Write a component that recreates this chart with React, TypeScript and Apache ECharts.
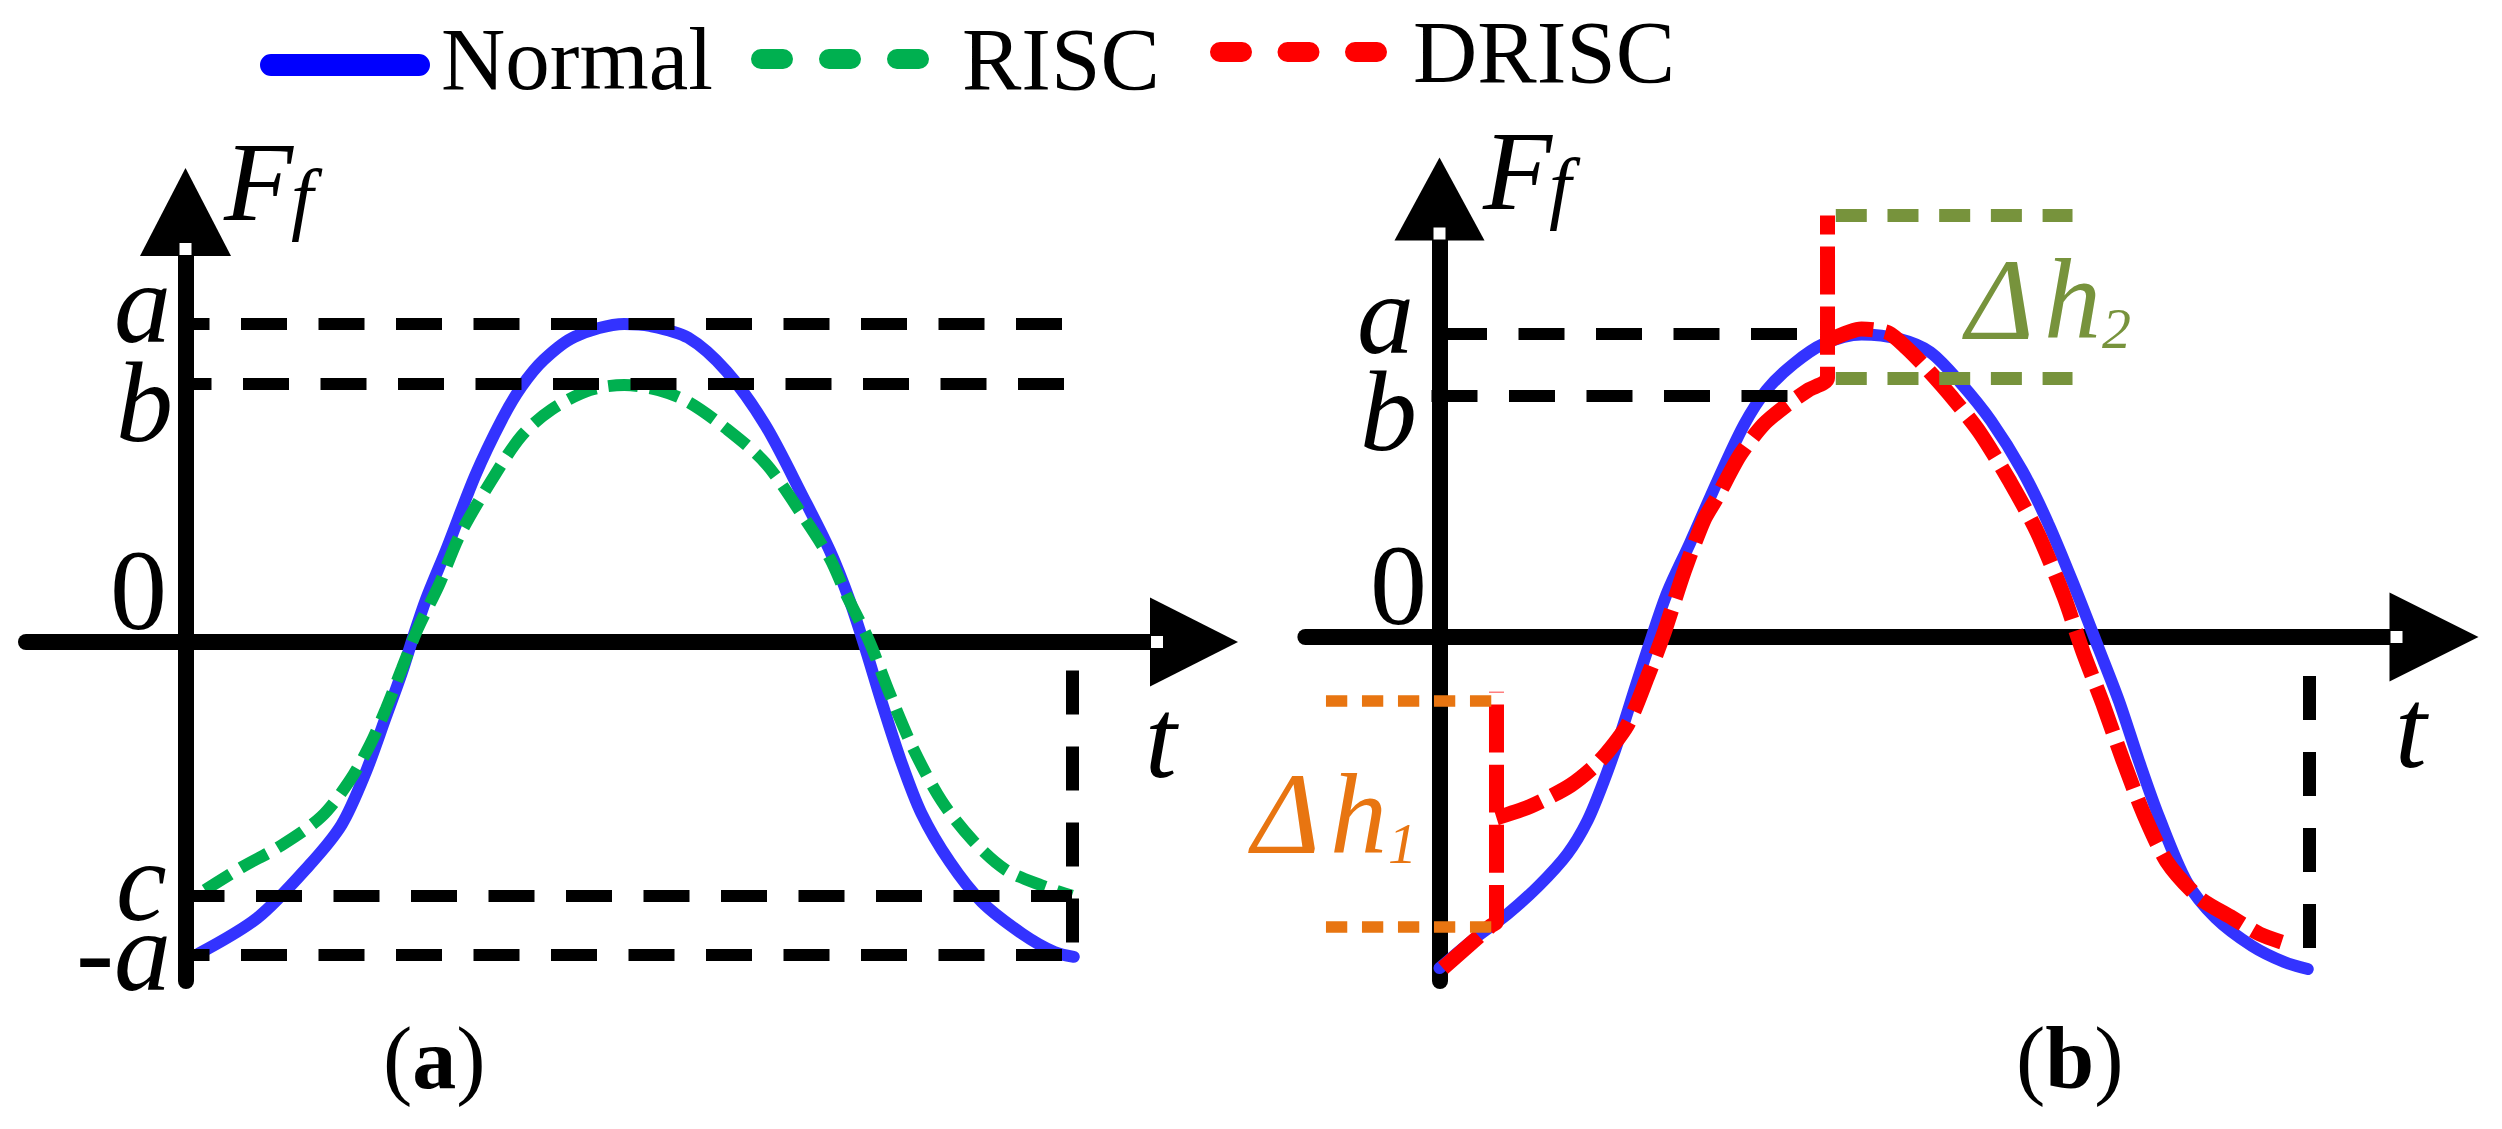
import React, { useEffect, useRef } from 'react';
import * as echarts from 'echarts';

// ---------------- data: t in units of the period T, F in units of a ----------------
const normalA: [number, number][] = [
  [0.015, -0.98], [0.081, -0.868], [0.139, -0.704], [0.176, -0.575], [0.203, -0.412],
  [0.226, -0.236], [0.244, -0.097], [0.257, 0.017], [0.271, 0.132], [0.295, 0.296],
  [0.327, 0.525], [0.357, 0.7], [0.379, 0.803], [0.404, 0.887], [0.439, 0.96],
  [0.495, 1.0], [0.524, 0.994], [0.567, 0.957], [0.61, 0.852],
  [0.654, 0.682], [0.697, 0.454], [0.727, 0.286], [0.749, 0.132], [0.767, -0.021],
  [0.785, -0.186], [0.807, -0.374], [0.83, -0.538], [0.862, -0.691], [0.898, -0.817],
  [0.944, -0.918], [0.98, -0.975], [1.002, -0.99],
];

const riscA: [number, number][] = [
  [0.022, -0.78], [0.063, -0.709], [0.108, -0.64], [0.153, -0.55], [0.185, -0.437],
  [0.208, -0.324], [0.226, -0.211], [0.244, -0.084], [0.262, 0.042], [0.286, 0.18],
  [0.309, 0.334], [0.344, 0.503], [0.379, 0.648], [0.413, 0.731], [0.456, 0.792],
  [0.495, 0.808], [0.534, 0.792], [0.567, 0.755], [0.61, 0.671], [0.654, 0.563],
  [0.697, 0.394], [0.727, 0.262], [0.744, 0.157], [0.771, 0.004], [0.794, -0.16],
  [0.821, -0.336], [0.853, -0.5], [0.889, -0.627], [0.925, -0.716], [0.966, -0.766],
  [1.0, -0.798],
];

const normalB: [number, number][] = [
  [0.0, -1.091], [0.041, -0.992], [0.078, -0.913], [0.114, -0.82], [0.147, -0.715],
  [0.17, -0.606], [0.189, -0.474], [0.207, -0.329], [0.226, -0.158], [0.244, 0.0],
  [0.262, 0.148], [0.288, 0.31], [0.319, 0.511], [0.35, 0.699], [0.376, 0.814],
  [0.407, 0.9], [0.441, 0.965], [0.485, 0.997], [0.529, 0.982], [0.564, 0.939],
  [0.599, 0.837], [0.634, 0.712], [0.67, 0.547], [0.7, 0.372], [0.731, 0.158],
  [0.758, -0.04], [0.781, -0.211], [0.804, -0.409], [0.827, -0.593], [0.859, -0.807],
  [0.892, -0.926], [0.934, -1.018], [0.971, -1.071], [0.998, -1.094],
];

// DRISC: each jump is a vertical rise; the curve then resumes from a lower point
// (null = pen up between the top of the jump and the resumed curve)
const driscB: [number, number | null][] = [
  [0.004, -1.091], [0.059, -0.952], [0.0655, -0.938], [0.0655, -0.18], [0.0655, null],
  [0.0655, -0.596],
  [0.105, -0.557], [0.151, -0.488], [0.184, -0.409], [0.216, -0.29], [0.239, -0.132],
  [0.258, 0.013], [0.281, 0.214], [0.304, 0.386], [0.319, 0.46], [0.345, 0.598],
  [0.372, 0.699], [0.398, 0.762], [0.424, 0.814], [0.446, 0.853], [0.446, 1.389],
  [0.446, null],
  [0.446, 0.975], [0.485, 1.015], [0.516, 1.002], [0.537, 0.952], [0.559, 0.888],
  [0.59, 0.787], [0.621, 0.674], [0.656, 0.511], [0.687, 0.346], [0.718, 0.132],
  [0.74, -0.052], [0.763, -0.224], [0.786, -0.409], [0.809, -0.58], [0.836, -0.74],
  [0.873, -0.859], [0.911, -0.925], [0.943, -0.979], [0.968, -1.005],
];

const legendNames = ['Normal', 'RISC', 'DRISC'];

const tickLabelsA = ['a', 'b', '0', 'c', '-a'];
const tickValuesA = [1, 0.811, 0, -0.799, -0.984];
const tickLabelsB = ['a', 'b', '0'];
const tickValuesB = [1, 0.795, 0];

const guideLevelsA = [1, 0.811, -0.799, -0.984]; // a, b, c, -a
const endGuideA = [-0.09, -0.984]; // vertical dashed guide at t = T
const guideLevelsB = [1, 0.795]; // a, b
const guideEndsB = [0.412, 0.4024];
const endGuideB = [-0.1285, -1.03];
const deltaH1 = [-0.21, -0.955]; // top, bottom of the first jump
const deltaH1Span = [-0.1305, 0.0605];
const deltaH2 = [1.389, 0.852]; // top, bottom of the second jump
const deltaH2Span = [0.4555, 0.7276];
const PERIOD = 1;

// ---------------- layout / style ----------------
const FONT = '"Liberation Serif", "Times New Roman", serif';
const CENTRAL = 0.3375; // central baseline above alphabetic baseline (em)
const BLUE = '#3333FF';
const BLUE_LEG = '#0000FF';
const GREEN = '#00B050';
const RED = '#FF0000';
const ORANGE = '#E87511';
const OLIVE = '#77933C';

// pixel calibration of the two panels
const PA = { x0: 185.5, y0: 642, pxT: 886.5, pxF: 318, left: 26, right: 1194, top: 212, bottom: 981 };
const PB = { x0: 1439.5, y0: 637, pxT: 870, pxF: 303.5, left: 1305.4, right: 2434, top: 199, bottom: 981 };

const ext = (P: typeof PA) => ({
  xmin: (P.left - P.x0) / P.pxT,
  xmax: (P.right - P.x0) / P.pxT,
  ymin: -(P.bottom - P.y0) / P.pxF,
  ymax: (P.y0 - P.top) / P.pxF,
});

const blackDash = (offset: number) => ({ color: '#000', width: 12, type: [46, 31.5], dashOffset: offset });

function hLine(y: number, t0: number, t1: number, style: any) {
  return [{ coord: [t0, y], lineStyle: style }, { coord: [t1, y] }];
}
function vLine(t: number, y0: number, y1: number, style: any) {
  return [{ coord: [t, y0], lineStyle: style }, { coord: [t, y1] }];
}

function text(x: number, baseline: number, str: string, fs: number, fill: string, extra: any = {}) {
  return {
    type: 'text',
    x,
    y: baseline - CENTRAL * fs,
    z: 50,
    silent: true,
    style: {
      text: str,
      fontFamily: FONT,
      fontSize: fs,
      fontStyle: extra.italic ? 'italic' : 'normal',
      fontWeight: extra.bold ? 'bold' : 'normal',
      fill,
      align: 'left',
      verticalAlign: 'middle',
      textAlign: 'left',
      textVerticalAlign: 'middle',
      rich: extra.rich,
    },
  };
}

function axisCfg(gridIndex: number, min: number, max: number, size: number[]) {
  return {
    gridIndex,
    type: 'value',
    min,
    max,
    axisLine: {
      show: true,
      onZero: true,
      symbol: ['none', 'triangle'],
      symbolSize: size,
      lineStyle: { color: '#000', width: 16 },
    },
    axisTick: { show: false },
    axisLabel: { show: false },
    splitLine: { show: false },
  };
}

function dashedLegend(name: string, left: number, top: number, itemWidth: number, lw: number, color: string, type: any, textPad: number[]) {
  return {
    data: [{ name }],
    left,
    top,
    padding: 0,
    itemWidth,
    itemHeight: lw,
    selectedMode: false,
    lineStyle: { color, width: lw, type, cap: 'round' },
    itemStyle: { color, opacity: 0, borderWidth: 0 },
    textStyle: { fontFamily: FONT, fontSize: 89, color: '#000', padding: textPad },
  };
}

// solid capsule icon, drawn in the lower part of its box so that it sits a little
// below the middle of the legend text (as in the reference)
const CAPSULE_ICON = 'path://M0,0L0.01,0L0,0.01ZM11,12L159,12A11,11,0,0,1,159,34L11,34A11,11,0,0,1,11,12Z';

export default function App() {
  const ref = useRef<HTMLDivElement>(null);

  useEffect(() => {
    const chart = echarts.init(ref.current!, null, { renderer: 'svg' });
    const ea = ext(PA);
    const eb = ext(PB);
    const pyA = (v: number) => PA.y0 - v * PA.pxF;
    const pyB = (v: number) => PB.y0 - v * PB.pxF;

    const tickOffA = [
      { dx: -71.5, dy: 18 }, { dx: -69.5, dy: 57 }, { dx: -75.5, dy: -13 }, { dx: -69.5, dy: 24 }, { dx: -109.5, dy: 35 },
    ];
    const tickOffB = [{ dx: -82.5, dy: 19.5 }, { dx: -79.5, dy: 54.3 }, { dx: -69.5, dy: -13 }];

    const tickText = (label: string, x: number, baseline: number) => {
      if (label === '0') return text(x, baseline, '0', 114, '#000');
      if (label.startsWith('-')) {
        return text(x, baseline, `{n|-}{i|${label.slice(1)}}`, 114, '#000', {
          rich: {
            n: { fontFamily: FONT, fontSize: 114 },
            i: { fontFamily: FONT, fontSize: 114, fontStyle: 'italic' },
          },
        });
      }
      return text(x, baseline, label, 114, '#000', { italic: true });
    };

    const subLabel = (x: number, baseline: number, main: string, sub: string, mainSize: number, subSize: number, mainWidth: number, fill: string) =>
      text(x, baseline, `{m|${main}}{s|${sub}}`, mainSize, fill, {
        italic: true,
        rich: {
          m: { fontFamily: FONT, fontSize: mainSize, fontStyle: 'italic', width: mainWidth },
          s: { fontFamily: FONT, fontSize: subSize, fontStyle: 'italic', verticalAlign: 'bottom' },
        },
      });

    const deltaLabel = (x: number, baseline: number, sub: string, fill: string) =>
      text(x, baseline, `{d|Δ}{h|h}{s|${sub}}`, 116, fill, {
        italic: true,
        rich: {
          d: { fontFamily: FONT, fontSize: 116, fontStyle: 'italic', width: 78 },
          h: { fontFamily: FONT, fontSize: 114, fontStyle: 'italic', width: 58 },
          s: { fontFamily: FONT, fontSize: 58, fontStyle: 'italic', verticalAlign: 'bottom' },
        },
      });

    const caption = (x: number, letter: string) =>
      text(x, 1088.5, `{n|(}{b|${letter}}{n|)}`, 88, '#000', {
        rich: {
          n: { fontFamily: FONT, fontSize: 88 },
          b: { fontFamily: FONT, fontSize: 88, fontWeight: 'bold' },
        },
      });

    const whiteSq = (cx: number, cy: number) => ({
      type: 'rect',
      z: 40,
      silent: true,
      shape: { x: cx - 6, y: cy - 6, width: 12, height: 12 },
      style: { fill: '#fff' },
    });

    const graphic: any[] = [
      // axis names
      subLabel(224, 220, 'F', 'f', 113, 80, 67, '#000'),
      subLabel(1483, 208.6, 'F', 'f', 113, 80, 66, '#000'),
      text(1145, 777, 't', 114, '#000', { italic: true }),
      text(2395, 767, 't', 114, '#000', { italic: true }),
      // tick labels
      ...tickLabelsA.map((l, i) => tickText(l, PA.x0 + tickOffA[i].dx, pyA(tickValuesA[i]) + tickOffA[i].dy)),
      ...tickLabelsB.map((l, i) => tickText(l, PB.x0 + tickOffB[i].dx, pyB(tickValuesB[i]) + tickOffB[i].dy)),
      // jump annotations
      deltaLabel(1252, 853.6, '1', ORANGE),
      deltaLabel(1966, 338.7, '2', OLIVE),
      // captions
      caption(383, 'a'),
      caption(2016, 'b'),
      // small white notches at the arrow bases
      whiteSq(PA.x0, PA.top + 44 - 7),
      whiteSq(PA.right - 44 + 7, PA.y0),
      whiteSq(PB.x0, PB.top + 41.5 - 7),
      whiteSq(PB.right - 44.5 + 7, PB.y0),
    ];

    const mlBase = {
      silent: true,
      symbol: ['none', 'none'],
      label: { show: false },
      emphasis: { disabled: true },
      animation: false,
    };

    const option: any = {
      animation: false,
      backgroundColor: '#fff',
      legend: [
        {
          data: [{ name: legendNames[0] }],
          left: 260,
          top: 14.5,
          padding: 0,
          icon: CAPSULE_ICON,
          symbolKeepAspect: false,
          itemWidth: 170,
          itemHeight: 34,
          selectedMode: false,
          itemStyle: { color: BLUE_LEG, borderWidth: 0 },
          textStyle: { fontFamily: FONT, fontSize: 89, color: '#000', padding: [0, 0, 0, 6] },
        },
        dashedLegend(legendNames[1], 751, 14.5, 158, 20, GREEN, [22, 46], [0, 0, 0, 38]),
        dashedLegend(legendNames[2], 1210, 7.5, 158, 20, RED, [22, 45.5], [0, 0, 0, 30]),
      ],
      grid: [
        { left: PA.left, top: PA.top, width: PA.right - PA.left, height: PA.bottom - PA.top, containLabel: false, outerBoundsMode: 'none' },
        { left: PB.left, top: PB.top, width: PB.right - PB.left, height: PB.bottom - PB.top, containLabel: false, outerBoundsMode: 'none' },
      ],
      xAxis: [axisCfg(0, ea.xmin, ea.xmax, [89, 88]), axisCfg(1, eb.xmin, eb.xmax, [89, 89])],
      yAxis: [axisCfg(0, ea.ymin, ea.ymax, [91, 88]), axisCfg(1, eb.ymin, eb.ymax, [90, 83])],
      graphic,
      series: [
        {
          name: 'Normal',
          type: 'line',
          xAxisIndex: 0,
          yAxisIndex: 0,
          data: normalA,
          symbol: 'none',
          smooth: 0.3,
          silent: true,
          emphasis: { disabled: true },
          itemStyle: { color: BLUE_LEG },
          lineStyle: { color: BLUE, width: 12, cap: 'round' },
          markLine: {
            ...mlBase,
            data: [
              hLine(guideLevelsA[0], 0, PERIOD, blackDash(22.2)),
              hLine(guideLevelsA[1], 0, PERIOD, blackDash(19.5)),
              hLine(guideLevelsA[2], 0, PERIOD, blackDash(7.3)),
              hLine(guideLevelsA[3], 0, PERIOD, blackDash(22)),
              vLine(PERIOD, endGuideA[0], endGuideA[1], { color: '#000', width: 13, type: [44, 32] }),
            ],
          },
        },
        {
          name: 'RISC',
          type: 'line',
          xAxisIndex: 0,
          yAxisIndex: 0,
          data: riscA,
          symbol: 'none',
          smooth: 0.3,
          silent: true,
          emphasis: { disabled: true },
          itemStyle: { color: GREEN },
          lineStyle: { color: GREEN, width: 12, type: [30, 12] },
        },
        {
          name: 'Normal',
          type: 'line',
          xAxisIndex: 1,
          yAxisIndex: 1,
          data: normalB,
          symbol: 'none',
          smooth: 0.3,
          silent: true,
          emphasis: { disabled: true },
          itemStyle: { color: BLUE_LEG },
          lineStyle: { color: BLUE, width: 12, cap: 'round' },
          markLine: {
            ...mlBase,
            data: [
              hLine(guideLevelsB[0], 0, guideEndsB[0], blackDash(75.9)),
              hLine(guideLevelsB[1], -0.0092, guideEndsB[1], blackDash(0)),
              vLine(PERIOD, endGuideB[0], endGuideB[1], { color: '#000', width: 13, type: [44, 32] }),
              hLine(deltaH1[0], deltaH1Span[0], deltaH1Span[1], { color: ORANGE, width: 11.5, type: [21.3, 14.7] }),
              hLine(deltaH1[1], deltaH1Span[0], deltaH1Span[1], { color: ORANGE, width: 11.5, type: [21.3, 14.7] }),
              hLine(deltaH2[0], deltaH2Span[0], deltaH2Span[1], { color: OLIVE, width: 13, type: [31, 20.7] }),
              hLine(deltaH2[1], deltaH2Span[0], deltaH2Span[1], { color: OLIVE, width: 13, type: [31, 20.7] }),
            ],
          },
        },
        {
          name: 'DRISC',
          type: 'line',
          xAxisIndex: 1,
          yAxisIndex: 1,
          data: driscB,
          symbol: 'none',
          smooth: 0.25,
          connectNulls: false,
          silent: true,
          emphasis: { disabled: true },
          itemStyle: { color: RED },
          lineStyle: { color: RED, width: 15, type: [48, 12] },
        },
      ],
    };

    chart.setOption(option);
    return () => chart.dispose();
  }, []);

  return (
    <div
      ref={ref}
      style={{ position: 'fixed', left: 0, top: 0, width: 2502, height: 1129, background: '#fff' }}
    />
  );
}
